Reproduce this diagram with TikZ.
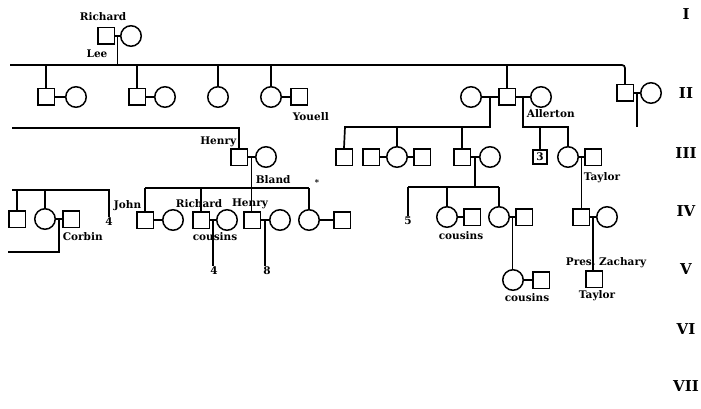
\documentclass[tikz,border=0pt]{standalone}
\usepackage{fontspec}
\setmainfont{DejaVu Serif}
\usetikzlibrary{calc,positioning}

\begin{document}
\begin{tikzpicture}[x=1pt,y=-1pt,
  font=\fontsize{10.5}{12}\selectfont\bfseries,
  male/.style={draw,line width=1.5pt,minimum size=16.5pt,inner sep=0pt},
  fem/.style={draw,circle,line width=1.5pt,minimum size=20.5pt,inner sep=0pt},
  lab/.style={inner sep=0pt},
  gen/.style={font=\fontsize{15}{15}\selectfont\bfseries,inner sep=0pt},
  line width=1.7pt
]
\useasboundingbox (0,0) rectangle (701,409);

% generation I
\node[male] (rich) at (106,36) {};
\node[fem] (richw) at (131,36) {};
\node[lab] (richT) at (103,17) {Richard};
\node[lab] (leeT) at (97,54) {Lee};
\draw (rich) -- (richw);
\coordinate (mI) at ($(rich.east)!0.5!(richw.west)$);
\coordinate (bar2) at (10,65);
\draw (mI) -- (mI |- bar2);

% generation II
\node[male] (a1) at (46,97) {};
\node[fem] (a1w) at (76,97) {};
\node[male] (a2) at (137,97) {};
\node[fem] (a2w) at (165,97) {};
\node[fem] (a3) at (218,97) {};
\node[fem] (a4) at (271,97) {};
\node[male] (a4h) at (299,97) {};
\node[lab,anchor=west] (youT) at (292,117) {Youell};
\node[fem] (b0) at (471,97) {};
\node[male] (b1) at (507,97) {};
\node[fem] (b2) at (541,97) {};
\node[lab,anchor=west] (allT) at (526,114) {Allerton};
\node[male] (c1) at (625,93) {};
\node[fem] (c1w) at (651,93) {};

\draw[rounded corners=3pt] (bar2) -| (c1.north);
\foreach \n in {a1,a2,a3,a4,b1}
  \draw (\n.north) -- (\n.north |- bar2);
\draw (a1) -- (a1w); \draw (a2) -- (a2w); \draw (a4) -- (a4h);
\draw (b0) -- (b1) -- (b2); \draw (c1) -- (c1w);
\coordinate (mC) at ($(c1.east)!0.5!(c1w.west)$);
\draw (mC) -- ++(0,34);

% generation III, right
\node[male] (e1) at (344,157) {};
\node[male] (e2) at (371,157) {};
\node[fem] (e3) at (397,157) {};
\node[male] (e4) at (422,157) {};
\node[male] (e5) at (462,157) {};
\node[fem] (e6) at (490,157) {};
\node[male,line width=2.2pt,minimum size=14pt] (g1) at (540,157) {3};
\node[fem] (g2) at (568,157) {};
\node[male] (g3) at (593,157) {};
\node[lab,anchor=west] (tayT) at (583,178) {Taylor};

\coordinate (mA) at ($(b0.east)!0.5!(b1.west)$);
\coordinate (barE) at (345,127);
\draw (mA) |- (barE) -- (e1.north);
\foreach \n in {e3,e5}
  \draw (\n.north) -- (\n.north |- barE);
\draw (e2) -- (e3) -- (e4); \draw (e5) -- (e6);
\coordinate (mB) at ($(b1.east)!0.5!(b2.west)$);
\coordinate (barG) at (568,127);
\draw (mB) |- (barG) -- (g2.north);
\draw (g1.north) -- (g1.north |- barG);
\draw (g2) -- (g3);

% generation IV, right
\node[lab] (k0) at (408,221) {5};
\node[fem] (k1) at (447,217) {};
\node[male] (k2) at (472,217) {};
\node[lab] (cou1) at (461,236) {cousins};
\node[fem] (k3) at (499,217) {};
\node[male] (k4) at (524,217) {};
\node[male] (i1) at (581,217) {};
\node[fem] (i2) at (607,217) {};

\coordinate (mE) at ($(e5.east)!0.5!(e6.west)$);
\coordinate (barKL) at (408,187);
\coordinate (barKR) at (499,187);
\draw (barKL) -- (barKR);
\draw (mE) -- (mE |- barKL);
\foreach \n in {k0,k1,k3}
  \draw (\n.north) -- (\n.north |- barKL);
\draw (k1) -- (k2); \draw (k3) -- (k4);
\coordinate (mG) at ($(g2.east)!0.5!(g3.west)$);
\draw (mG) -- (mG |- i1.north);
\draw (i1) -- (i2);

% generation V, right
\node[fem] (l1) at (513,280) {};
\node[male] (l2) at (541,280) {};
\node[lab] (cou2) at (527,298) {cousins};
\node[male] (j1) at (594,279) {};
\node[lab] (presT) at (606,263) {Pres.\ Zachary};
\node[lab] (zacT) at (597,296) {Taylor};
\coordinate (mK) at ($(k3.east)!0.5!(k4.west)$);
\draw (mK) -- (mK |- l1.north);
\draw (l1) -- (l2);
\coordinate (mJ) at ($(i1.east)!0.5!(i2.west)$);
\draw[line width=1.1pt] (mJ) -- (mJ |- j1.north);

% generation III and IV, left
\coordinate (barH) at (12,128);
\node[male] (h1) at (239,157) {};
\node[fem] (h2) at (266,157) {};
\node[lab,anchor=east] (henT) at (237,142) {Henry};
\node[lab,anchor=west] (blaT) at (255,180) {Bland};
\draw (barH) -| (h1.north);
\draw (h1) -- (h2);

\node[male] (n1) at (145,220) {};
\node[fem] (n2) at (173,220) {};
\node[male] (n3) at (201,220) {};
\node[fem] (n4) at (227,220) {};
\node[male] (n5) at (252,220) {};
\node[fem] (n6) at (280,220) {};
\node[fem] (n7) at (309,220) {};
\node[male] (n8) at (342,220) {};
\node[lab,anchor=east] (johT) at (142,206) {John};
\node[lab] (ricT) at (199,204) {Richard};
\node[lab] (hen2T) at (250,204) {Henry};
\node[lab] (cou3T) at (215,237) {cousins};
\node[lab,font=\fontsize{8}{8}\selectfont\bfseries] (starT) at (317,183) {*};
\node[lab] (num4) at (214,271) {4};
\node[lab] (num8) at (267,271) {8};

\coordinate (mH) at ($(h1.east)!0.5!(h2.west)$);
\coordinate (barNL) at (145,188);
\coordinate (barNR) at (309,188);
\draw (barNL) -- (barNR);
\draw (mH) -- (mH |- n5.north);
\foreach \n in {n1,n3,n7}
  \draw (\n.north) -- (\n.north |- barNL);
\draw (n1) -- (n2); \draw (n3) -- (n4); \draw (n5) -- (n6); \draw (n7) -- (n8);
\coordinate (mN) at ($(n3.east)!0.5!(n4.west)$);
\draw (mN) -- (mN |- num4.north);
\coordinate (mM) at ($(n5.east)!0.5!(n6.west)$);
\draw (mM) -- (mM |- num8.north);

% far left
\node[male] (o1) at (17,219) {};
\node[fem] (o2) at (45,219) {};
\node[male] (o3) at (71,219) {};
\node[lab,anchor=west] (corT) at (62,237) {Corbin};
\node[lab] (num4b) at (109,222) {4};
\coordinate (barO) at (12,190);
\coordinate (endO) at (8,252);
\draw (barO) -| (num4b.north);
\foreach \n in {o1,o2}
  \draw (\n.north) -- (\n.north |- barO);
\draw (o2) -- (o3);
\coordinate (mO) at ($(o2.east)!0.5!(o3.west)$);
\draw (mO) |- (endO);

% generations
\node[gen] (genI) at (686,14) {I};
\node[gen] (genII) at (686,93) {II};
\node[gen] (genIII) at (686,153) {III};
\node[gen] (genIV) at (686,211) {IV};
\node[gen] (genV) at (686,269) {V};
\node[gen] (genVI) at (686,329) {VI};
\node[gen] (genVII) at (686,386) {VII};
\end{tikzpicture}
\end{document}
